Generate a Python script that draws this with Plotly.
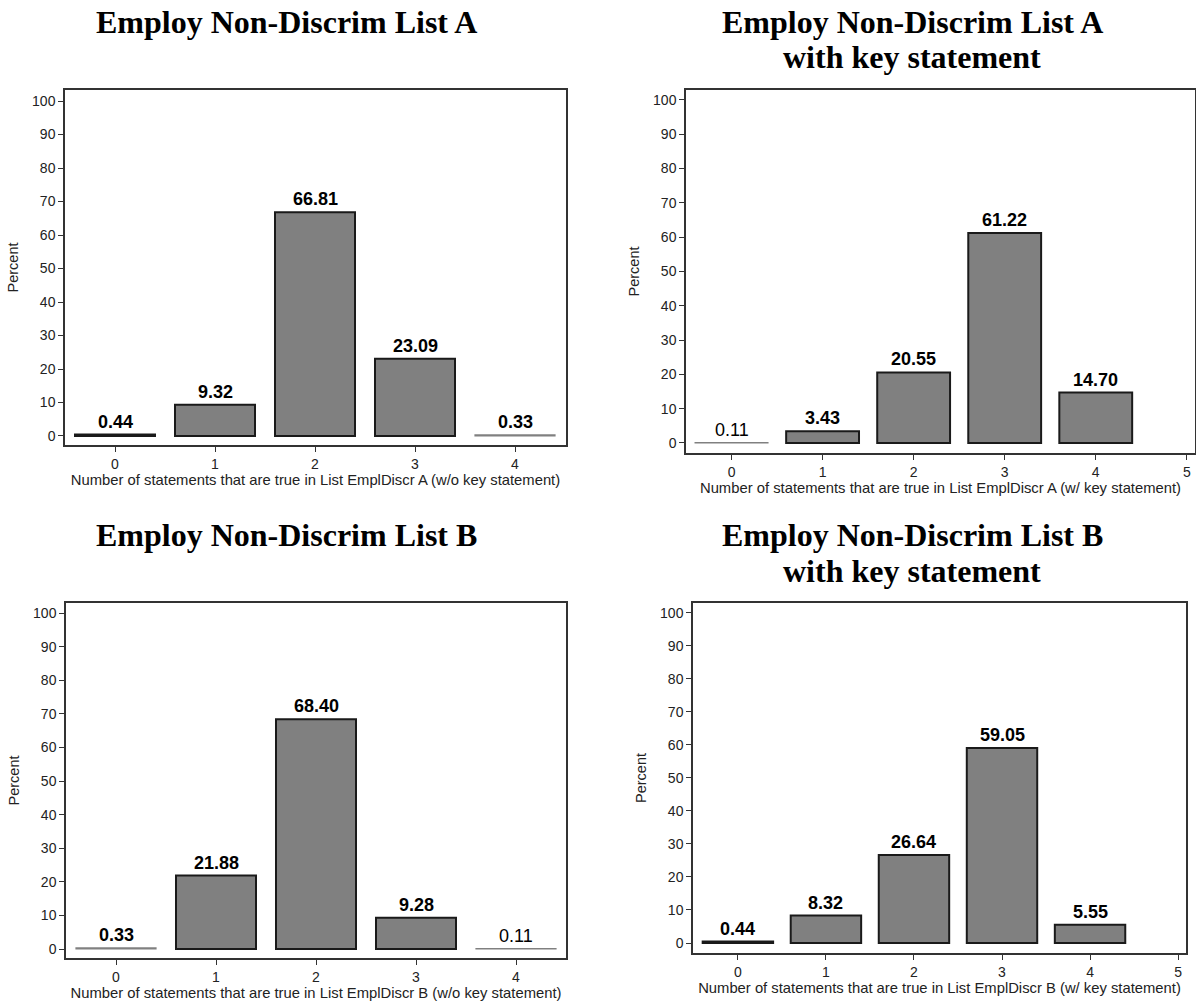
import plotly.graph_objects as go

# ---------------- data ----------------
cats_a = [0, 1, 2, 3, 4]
vals_a = [0.44, 9.32, 66.81, 23.09, 0.33]

cats_a_key = [0, 1, 2, 3, 4]
vals_a_key = [0.11, 3.43, 20.55, 61.22, 14.70]

cats_b = [0, 1, 2, 3, 4]
vals_b = [0.33, 21.88, 68.40, 9.28, 0.11]

cats_b_key = [0, 1, 2, 3, 4]
vals_b_key = [0.44, 8.32, 26.64, 59.05, 5.55]

titles = [
    ["Employ Non-Discrim List A"],
    ["Employ Non-Discrim List A", "with key statement"],
    ["Employ Non-Discrim List B"],
    ["Employ Non-Discrim List B", "with key statement"],
]
xtitles = [
    "Number of statements that are true in List EmplDiscr A (w/o key statement)",
    "Number of statements that are true in List EmplDiscr A (w/ key statement)",
    "Number of statements that are true in List EmplDiscr B (w/o key statement)",
    "Number of statements that are true in List EmplDiscr B (w/ key statement)",
]
ytitle = "Percent"
y_ticks = [0, 10, 20, 30, 40, 50, 60, 70, 80, 90, 100]
x_ticks_short = [0, 1, 2, 3, 4]
x_ticks_long = [0, 1, 2, 3, 4, 5]

# ---------------- layout geometry (page pixels) ----------------
W, H = 1196, 1003

panels = [
    dict(cats=cats_a, vals=vals_a, dom_x=(65, 566), dom_y=(90, 445),
         xr=[-0.5, 4.51], yr=[-2.69, 103.3], xt=x_ticks_short,
         title_x=286, title_y=[22]),
    dict(cats=cats_a_key, vals=vals_a_key, dom_x=(686, 1195), dom_y=(90, 453),
         xr=[-0.5, 5.09], yr=[-2.92, 102.9], xt=x_ticks_long,
         title_x=912, title_y=[22, 57]),
    dict(cats=cats_b, vals=vals_b, dom_x=(66, 566), dom_y=(603, 958),
         xr=[-0.5, 4.5], yr=[-2.68, 103.0], xt=x_ticks_short,
         title_x=286, title_y=[535]),
    dict(cats=cats_b_key, vals=vals_b_key, dom_x=(693, 1186), dom_y=(603, 953),
         xr=[-0.51, 5.09], yr=[-3.03, 103.0], xt=x_ticks_long,
         title_x=912, title_y=[535, 571]),
]

FONT = "Arial, Liberation Sans, Helvetica, sans-serif"
SERIF = "Times New Roman, Liberation Serif, serif"
AXIS_COLOR = "#333333"


def px(x):
    return x / W


def py(y):
    return 1 - y / H


fig = go.Figure()
annotations = []

for i, p in enumerate(panels):
    k = "" if i == 0 else str(i + 1)
    xa, ya = "x" + k, "y" + k
    small = [v < 0.4 for v in p["vals"]]
    fig.add_trace(go.Bar(
        x=p["cats"], y=p["vals"], width=0.8,
        marker=dict(
            color="#808080",
            line=dict(
                color=["#808080" if s else "#1a1a1a" for s in small],
                width=[1.2 if s else 2 for s in small],
            ),
        ),
        xaxis=xa, yaxis=ya, showlegend=False, hoverinfo="x+y",
    ))
    for c, v in zip(p["cats"], p["vals"]):
        annotations.append(dict(
            x=c, y=v, xref=xa, yref=ya, text=f"{v:.2f}",
            showarrow=False, yanchor="bottom", yshift=1,
            font=dict(family=FONT, size=18, color="black",
                      weight="bold" if v >= 0.2 else "normal"),
        ))
    for line, ty in zip(titles[i], p["title_y"]):
        annotations.append(dict(
            x=px(p["title_x"]), y=py(ty), xref="paper", yref="paper",
            text="<b>" + line + "</b>", showarrow=False,
            xanchor="center", yanchor="middle",
            font=dict(family=SERIF, size=32, color="black"),
        ))

    x0, x1 = p["dom_x"]
    yt, yb = p["dom_y"]
    axis_common = dict(
        showline=True, linecolor=AXIS_COLOR, linewidth=1.5, mirror=True,
        ticks="outside", ticklen=5, tickwidth=1, tickcolor=AXIS_COLOR,
        showgrid=False, zeroline=False, automargin=False,
        tickfont=dict(family=FONT, size=14, color="#222222"),
    )
    fig.layout["xaxis" + k] = dict(
        axis_common,
        domain=[px(x0), px(x1)], range=p["xr"], anchor=ya,
        tickmode="array", tickvals=p["xt"], ticktext=[str(t) for t in p["xt"]],
        title=dict(text=xtitles[i], standoff=1,
                   font=dict(family=FONT, size=14.8, color="#222222")),
    )
    fig.layout["yaxis" + k] = dict(
        axis_common,
        domain=[py(yb), py(yt)], range=p["yr"], anchor=xa,
        tickmode="array", tickvals=y_ticks, ticktext=[str(t) for t in y_ticks],
        title=dict(text=ytitle, standoff=10,
                   font=dict(family=FONT, size=14.5, color="#222222")),
    )

fig.update_layout(
    width=W, height=H,
    margin=dict(l=0, r=0, t=0, b=0),
    paper_bgcolor="white", plot_bgcolor="white",
    annotations=annotations,
    bargap=0.2,
)

fig.write_html(
    "out.html",
    config={"displayModeBar": False},
    post_script="document.body.style.margin='0px';document.body.style.overflow='hidden';",
)
